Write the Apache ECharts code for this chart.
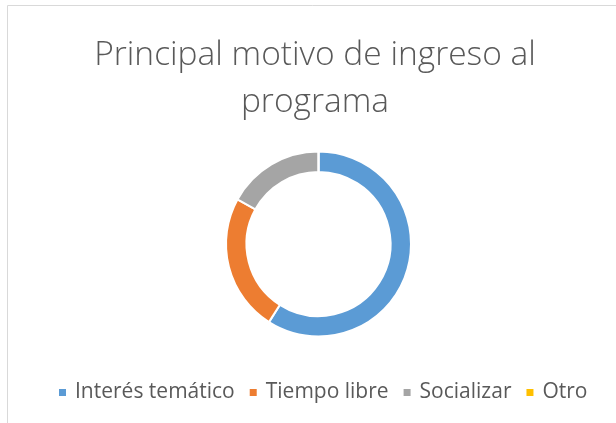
<!DOCTYPE html>
<html>
<head>
<meta charset="utf-8">
<script src="https://cdn.jsdelivr.net/npm/echarts@6/dist/echarts.min.js"></script>
<style>
  html, body { margin: 0; padding: 0; background: #fff; }
  #chart { width: 616px; height: 423px; }
</style>
</head>
<body>
<div id="chart"></div>
<script>
// datos (porcentaje aproximado)
const categorias = ['Interés temático', 'Tiempo libre', 'Socializar', 'Otro']
const valores = [59, 24, 17, 0]
const colores = ['#5B9BD5', '#ED7D31', '#A5A5A5', '#FFC000']
const titulo = 'Principal motivo de ingreso al\nprograma'

const chart = echarts.init(document.getElementById('chart'), null, { renderer: 'canvas' })

const option = {
  animation: false,
  color: colores,
  graphic: [
    {
      // borde del área del gráfico
      type: 'rect',
      silent: true,
      shape: { x: 7.5, y: 5.5, width: 700, height: 500 },
      style: { fill: 'none', stroke: '#d9d9d9', lineWidth: 1 },
    },
  ],
  title: {
    text: titulo,
    left: 310,
    textAlign: 'center',
    top: 27,
    textStyle: {
      fontFamily: 'Open Sans',
      fontWeight: 300,
      fontSize: 33.5,
      lineHeight: 47,
      color: '#595959',
    },
  },
  legend: {
    top: 377,
    left: 52,
    icon: 'rect',
    itemWidth: 9,
    itemHeight: 9,
    itemGap: 13,
    selectedMode: false,
    textStyle: {
      fontFamily: 'Open Sans',
      fontSize: 21,
      color: '#595959',
      padding: [0, 0, 0, 3],
    },
    data: categorias,
  },
  series: [
    {
      type: 'pie',
      radius: [72, 92.5],
      center: [318.5, 244],
      startAngle: 90,
      clockwise: true,
      silent: true,
      label: { show: false },
      labelLine: { show: false },
      itemStyle: { borderColor: '#fff', borderWidth: 2 },
      data: categorias.map((c, i) => ({ name: c, value: valores[i] })),
    },
  ],
}

chart.setOption(option)
</script>
</body>
</html>
